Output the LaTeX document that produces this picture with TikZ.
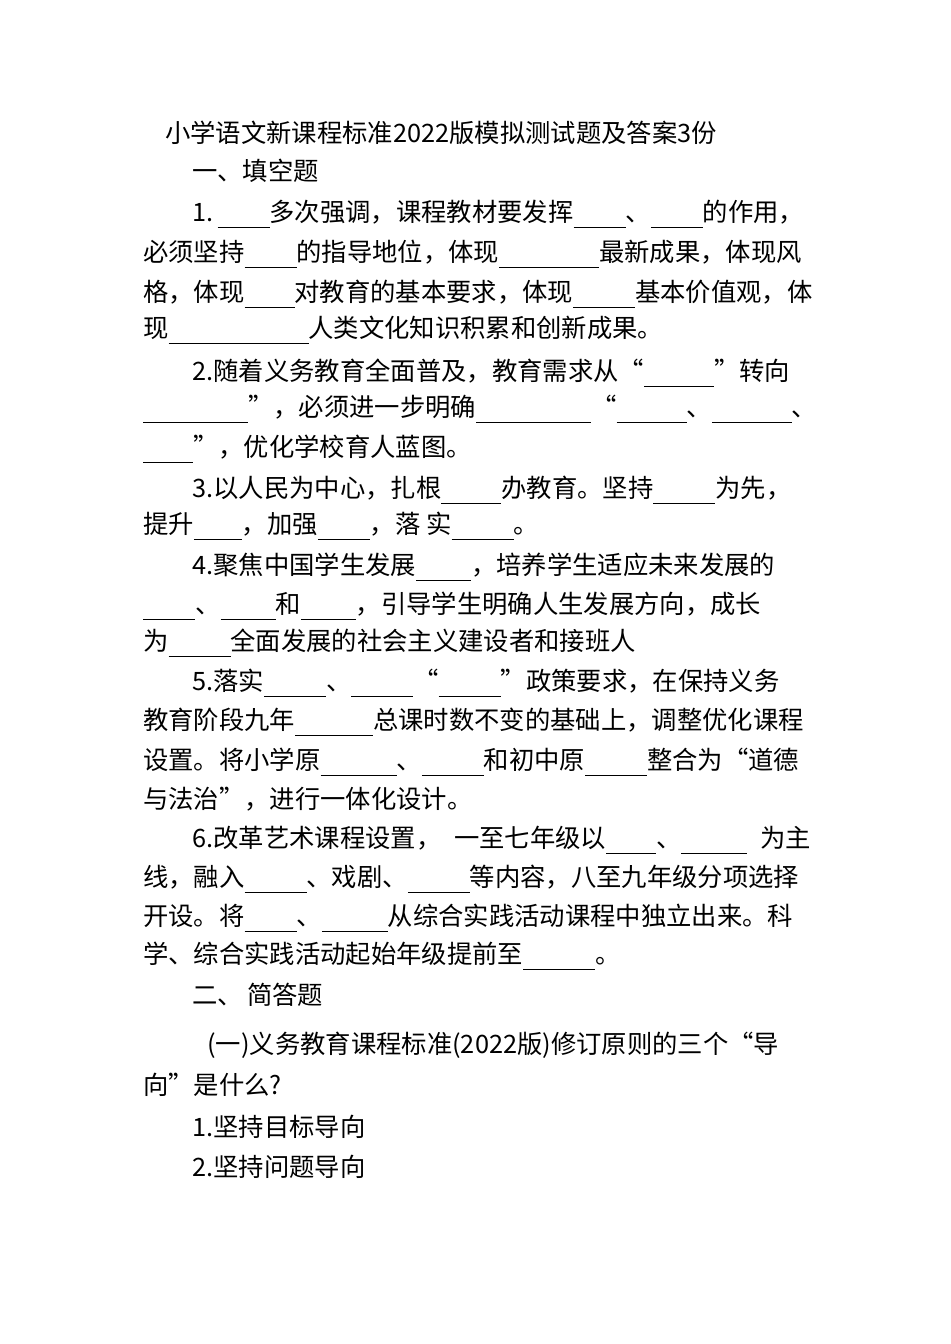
\documentclass[tikz,border=0pt]{standalone}
\usepackage{fontspec}
\setmainfont{Noto Sans CJK SC}
\newdimen\bkunit \bkunit=0.75pt
\newcommand\bk[1]{\rule[-5pt]{#1\bkunit}{0.9pt}}
\begin{document}
\begin{tikzpicture}[x=0.75pt,y=-0.75pt,
  ln/.style={anchor=west,inner sep=0pt,font=\fontsize{19}{19}\selectfont}]
\useasboundingbox[fill=white] (0,0) rectangle (950,1344);
\node[ln] (t) at (165,133) {小学语文新课程标准2022版模拟测试题及答案3份};
\node[ln] (s1) at (192,171) {一、填空题};
\node[ln] (a1) at (192,214) {1.\,\bk{52}多次强调，课程教材要发挥\bk{52}、\bk{52}的作用，};
\node[ln] (a2) at (143,254) {必须坚持\bk{52}的指导地位，体现\bk{100}最新成果，体现风};
\node[ln] (a3) at (143,294) {格，体现\bk{50}对教育的基本要求，体现\bk{62}基本价值观，体};
\node[ln] (a4) at (143,330) {现\bk{140}人类文化知识积累和创新成果。};
\node[ln] (b1) at (192,373) {2.随着义务教育全面普及，教育需求从“\bk{70}”转向};
\node[ln] (b2) at (143,409) {\bk{105}”，必须进一步明确\bk{115}“\bk{70}、\bk{80}、};
\node[ln] (b3) at (143,449) {\bk{50}”，优化学校育人蓝图。};
\node[ln] (c1) at (192,490) {3.以人民为中心，扎根\bk{60}办教育。坚持\bk{62}为先，};
\node[ln] (c2) at (143,526) {提升\bk{48}，加强\bk{52}，落 实\bk{62}。};
\node[ln] (d1) at (192,567) {4.聚焦中国学生发展\bk{55}，培养学生适应未来发展的};
\node[ln] (d2) at (143,606) {\bk{52}、\bk{55}和\bk{55}，引导学生明确人生发展方向，成长};
\node[ln] (d3) at (143,643) {为\bk{62}全面发展的社会主义建设者和接班人};
\node[ln] (e1) at (192,683) {5.落实\bk{62}、\bk{62}“\bk{62}”政策要求，在保持义务};
\node[ln] (e2) at (143,722) {教育阶段九年\bk{78}总课时数不变的基础上，调整优化课程};
\node[ln] (e3) at (143,762) {设置。将小学原\bk{76}、\bk{62}和初中原\bk{62}整合为“道德};
\node[ln] (e4) at (143,799) {与法治”，进行一体化设计。};
\node[ln] (f1) at (192,840) {6.改革艺术课程设置，\enspace 一至七年级以\bk{50}、\bk{66}\enspace 为主};
\node[ln] (f2) at (143,879) {线，融入\bk{62}、戏剧、\bk{62}等内容，八至九年级分项选择};
\node[ln] (f3) at (143,918) {开设。将\bk{52}、\bk{66}从综合实践活动课程中独立出来。科};
\node[ln] (f4) at (143,956) {学、综合实践活动起始年级提前至\bk{72}。};
\node[ln] (s2) at (192,995) {二、\,简答题};
\node[ln] (q1) at (207,1045) {(一)义务教育课程标准(2022版)修订原则的三个“导};
\node[ln] (q2) at (143,1085) {向”是什么?};
\node[ln] (r1) at (192,1127) {1.坚持目标导向};
\node[ln] (r2) at (192,1167) {2.坚持问题导向};
\end{tikzpicture}
\end{document}
